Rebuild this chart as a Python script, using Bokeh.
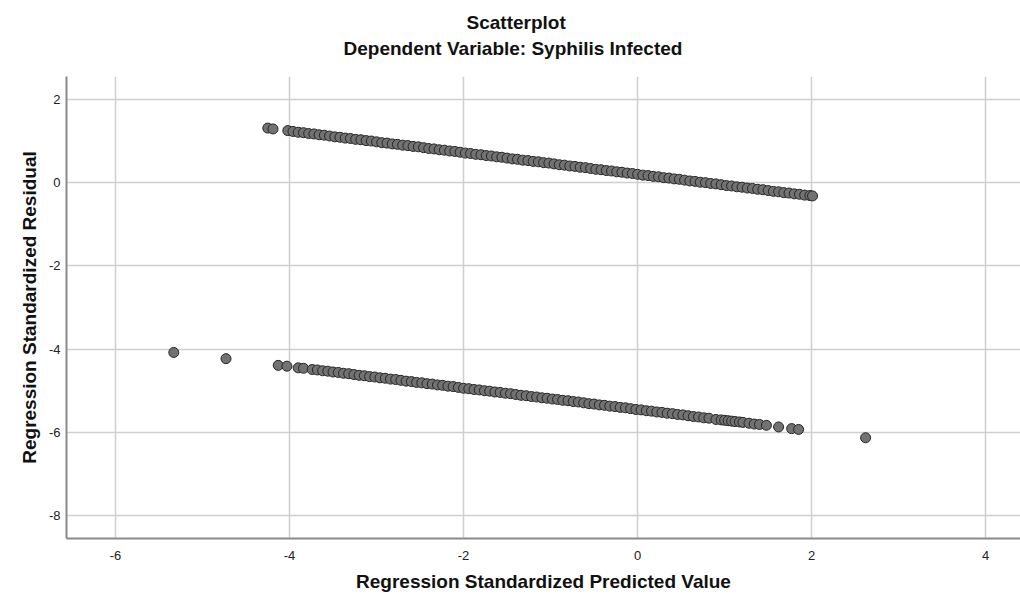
from bokeh.plotting import figure
from bokeh.models import FixedTicker, Range1d, Title
from bokeh.embed import file_html
from bokeh.resources import INLINE

# Upper band of residuals
upper_x = [-4.25, -4.19,
           -4.02, -3.96, -3.90, -3.84, -3.78, -3.72, -3.66, -3.60, -3.54, -3.48,
           -3.42, -3.36, -3.30, -3.24, -3.18, -3.12, -3.06, -3.00, -2.94, -2.88,
           -2.82, -2.76, -2.70, -2.64, -2.58, -2.52, -2.46, -2.40, -2.34, -2.28,
           -2.22, -2.16, -2.10, -2.04, -1.98, -1.92, -1.86, -1.80, -1.74, -1.68,
           -1.62, -1.56, -1.50, -1.44, -1.38, -1.32, -1.26, -1.20, -1.14, -1.08,
           -1.02, -0.96, -0.90, -0.84, -0.78, -0.72, -0.66, -0.60, -0.54, -0.48,
           -0.42, -0.36, -0.30, -0.24, -0.18, -0.12, -0.06, 0.00, 0.06, 0.12,
           0.18, 0.24, 0.30, 0.36, 0.42, 0.48, 0.54, 0.60, 0.66, 0.72,
           0.78, 0.84, 0.90, 0.96, 1.02, 1.08, 1.14, 1.20, 1.26, 1.32,
           1.38, 1.44, 1.50, 1.56, 1.62, 1.68, 1.74, 1.80, 1.86, 1.92,
           1.98, 2.01]
upper_y = [1.31, 1.29,
           1.25, 1.23, 1.21, 1.20, 1.18, 1.17, 1.15, 1.14, 1.12, 1.10,
           1.09, 1.07, 1.06, 1.04, 1.03, 1.01, 1.00, 0.98, 0.96, 0.95,
           0.93, 0.92, 0.90, 0.89, 0.87, 0.86, 0.84, 0.82, 0.81, 0.79,
           0.78, 0.76, 0.75, 0.73, 0.71, 0.70, 0.68, 0.67, 0.65, 0.64,
           0.62, 0.61, 0.59, 0.57, 0.56, 0.54, 0.53, 0.51, 0.50, 0.48,
           0.47, 0.45, 0.43, 0.42, 0.40, 0.39, 0.37, 0.36, 0.34, 0.32,
           0.31, 0.29, 0.28, 0.26, 0.25, 0.23, 0.22, 0.20, 0.18, 0.17,
           0.15, 0.14, 0.12, 0.11, 0.09, 0.08, 0.06, 0.04, 0.03, 0.01,
           0.00, -0.02, -0.03, -0.05, -0.07, -0.08, -0.10, -0.11, -0.13, -0.14,
           -0.16, -0.17, -0.19, -0.21, -0.22, -0.24, -0.25, -0.27, -0.28, -0.30,
           -0.31, -0.32]

# Lower band of residuals
lower_x = [-5.33, -4.73, -4.13, -4.03, -3.90, -3.84,
           -3.74, -3.68, -3.62, -3.56, -3.50, -3.44, -3.38, -3.32, -3.26, -3.20,
           -3.14, -3.08, -3.02, -2.96, -2.90, -2.84, -2.78, -2.72, -2.66, -2.60,
           -2.54, -2.48, -2.42, -2.36, -2.30, -2.24, -2.18, -2.12, -2.06, -2.00,
           -1.94, -1.88, -1.82, -1.76, -1.70, -1.64, -1.58, -1.52, -1.46, -1.40,
           -1.34, -1.28, -1.22, -1.16, -1.10, -1.04, -0.98, -0.92, -0.86, -0.80,
           -0.74, -0.68, -0.62, -0.56, -0.50, -0.44, -0.38, -0.32, -0.26, -0.20,
           -0.14, -0.08, -0.02, 0.04, 0.10, 0.16, 0.22, 0.28, 0.34, 0.40,
           0.46, 0.52, 0.58, 0.64, 0.70, 0.76, 0.82,
           0.90, 0.96, 1.00, 1.04, 1.08, 1.12, 1.17, 1.21, 1.28, 1.34,
           1.40, 1.48, 1.62, 1.77, 1.85, 2.62]
lower_y = [-4.08, -4.23, -4.39, -4.41, -4.45, -4.46,
           -4.49, -4.50, -4.52, -4.53, -4.55, -4.56, -4.58, -4.59, -4.61, -4.63,
           -4.64, -4.66, -4.67, -4.69, -4.70, -4.72, -4.73, -4.75, -4.77, -4.78,
           -4.80, -4.81, -4.83, -4.84, -4.86, -4.87, -4.89, -4.90, -4.92, -4.94,
           -4.95, -4.97, -4.98, -5.00, -5.01, -5.03, -5.04, -5.06, -5.07, -5.09,
           -5.11, -5.12, -5.14, -5.15, -5.17, -5.18, -5.20, -5.21, -5.23, -5.24,
           -5.26, -5.27, -5.29, -5.31, -5.32, -5.34, -5.35, -5.37, -5.38, -5.40,
           -5.41, -5.43, -5.45, -5.46, -5.48, -5.49, -5.51, -5.52, -5.54, -5.55,
           -5.57, -5.58, -5.60, -5.62, -5.63, -5.65, -5.66,
           -5.69, -5.70, -5.71, -5.72, -5.73, -5.74, -5.75, -5.76, -5.78, -5.80,
           -5.81, -5.83, -5.87, -5.91, -5.93, -6.13]

x_ticks = [-6, -4, -2, 0, 2, 4]
x_tick_labels = ["-6", "-4", "-2", "0", "2", "4"]
y_ticks = [-8, -6, -4, -2, 0, 2]
y_tick_labels = ["-8", "-6", "-4", "-2", "0", "2"]

title_text = "Scatterplot"
subtitle_text = "Dependent Variable: Syphilis Infected"
x_label = "Regression Standardized Predicted Value"
y_label = "Regression Standardized Residual"

FONT = "Liberation Sans"

p = figure(width=1020, height=601, output_backend="svg", toolbar_location=None,
           x_range=Range1d(-6.563, 4.40), y_range=Range1d(-8.55, 2.55),
           min_border_left=66, min_border_right=0, min_border_top=76, min_border_bottom=63)

title_style = dict(align="left", text_font=FONT, text_font_style="bold",
                   text_color="#111111")

p.title.text = title_text
p.title.align = "left"
p.title.offset = 400
p.title.text_font = FONT
p.title.text_font_size = "19px"
p.title.text_font_style = "bold"
p.title.text_color = "#111111"
p.title.standoff = 6

# spacer closest to the frame, then the subtitle above it
p.add_layout(Title(text=" ", standoff=0, text_font_size="14px", **title_style), "above")
p.add_layout(Title(text=subtitle_text, standoff=0, offset=277,
                   text_font_size="19px", **title_style), "above")

p.outline_line_color = None
p.background_fill_color = "white"
p.border_fill_color = "white"

p.xaxis.ticker = FixedTicker(ticks=x_ticks)
p.yaxis.ticker = FixedTicker(ticks=y_ticks)
p.xgrid.ticker = FixedTicker(ticks=x_ticks)
p.ygrid.ticker = FixedTicker(ticks=y_ticks)
p.xaxis.major_label_overrides = dict(zip(x_ticks, x_tick_labels))
p.yaxis.major_label_overrides = dict(zip(y_ticks, y_tick_labels))

for ax in (p.xaxis[0], p.yaxis[0]):
    ax.axis_line_color = "#8a8a8a"
    ax.axis_line_width = 2
    ax.major_tick_line_color = None
    ax.minor_tick_line_color = None
    ax.major_tick_out = 0
    ax.major_tick_in = 0
    ax.minor_tick_out = 0
    ax.major_label_text_font = FONT
    ax.major_label_text_font_size = "13px"
    ax.major_label_text_color = "#222222"
    ax.axis_label_text_font = FONT
    ax.axis_label_text_font_size = "19px"
    ax.axis_label_text_font_style = "bold"
    ax.axis_label_text_color = "#111111"

p.xaxis.axis_label = x_label
p.yaxis.axis_label = y_label
p.xaxis.major_label_standoff = 12
p.xaxis.axis_label_standoff = 8
p.xaxis.axis_label_text_line_height = 0.8
p.yaxis.major_label_standoff = 6
p.yaxis.axis_label_standoff = 6

p.xgrid.grid_line_color = "#cfcfcf"
p.ygrid.grid_line_color = "#cfcfcf"
p.xgrid.grid_line_width = 1.5
p.ygrid.grid_line_width = 1.5

p.scatter(upper_x, upper_y, size=10, fill_color="#727272", line_color="#262626", line_width=1)
p.scatter(lower_x, lower_y, size=10, fill_color="#727272", line_color="#262626", line_width=1)

open("out.html", "w").write(file_html(p, INLINE))
